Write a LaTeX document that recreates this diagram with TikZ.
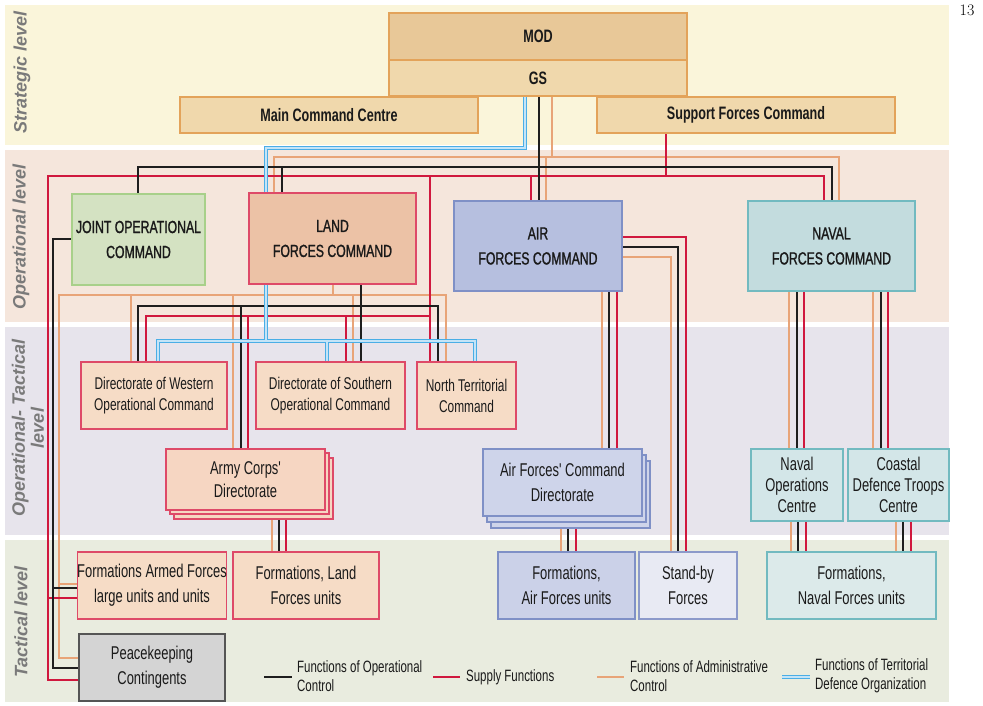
\documentclass[tikz,border=0pt]{standalone}
\usepackage{fontspec}
\newfontfamily\cond{Liberation Sans}[FakeStretch=0.7]
\newfontfamily\condmed{Liberation Sans}[FakeStretch=0.7,FakeBold=1.2]
\newfontfamily\lvlfont{Liberation Sans}
\usetikzlibrary{calc}
\pgfdeclarelayer{bands}
\pgfdeclarelayer{wires}
\pgfsetlayers{bands,wires,main}
\definecolor{bstrat}{HTML}{FAF5DA}
\definecolor{boper}{HTML}{F5E6DC}
\definecolor{boptac}{HTML}{E7E4EC}
\definecolor{btac}{HTML}{E9ECDF}
\definecolor{cmod}{HTML}{E8C898}
\definecolor{cgs}{HTML}{F0D8AC}
\definecolor{ctopb}{HTML}{E3A35A}
\definecolor{cjoc}{HTML}{D4E2C2}
\definecolor{cjocb}{HTML}{A8D08A}
\definecolor{clfc}{HTML}{ECC2A6}
\definecolor{credb}{HTML}{DE4A68}
\definecolor{cafc}{HTML}{B6BFDF}
\definecolor{cblueb}{HTML}{7F90C6}
\definecolor{cnfc}{HTML}{C3DCDE}
\definecolor{ctealb}{HTML}{72BAC0}
\definecolor{cdir}{HTML}{F6DCC6}
\definecolor{cacd}{HTML}{F6D6C2}
\definecolor{cafcd}{HTML}{CED4EA}
\definecolor{cnoc}{HTML}{D3E6E8}
\definecolor{cfair}{HTML}{CBD1E8}
\definecolor{csbf}{HTML}{E8EAF3}
\definecolor{csbfb}{HTML}{8C9ACA}
\definecolor{cfnfu}{HTML}{DCEAEA}
\definecolor{cpkc}{HTML}{D4D4D4}
\definecolor{cpkcb}{HTML}{555555}
\definecolor{ctext}{HTML}{1A1A1A}
\definecolor{clvl}{HTML}{7A7A7A}
\definecolor{lblk}{HTML}{1E1E1E}
\definecolor{lred}{HTML}{D0183E}
\definecolor{lorg}{HTML}{E8A478}
\definecolor{lblu}{HTML}{4AAEE6}
\definecolor{lbluin}{HTML}{C4E4F7}
\tikzset{
  box/.style={draw, line width=1.3pt, inner sep=0pt, align=center, text=ctext},
  boxsize/.style 2 args={minimum width=#1pt, minimum height=#2pt},
  fbold/.style={font=\cond\bfseries\fontsize{18}{22}\selectfont},
  fcmd/.style={font=\condmed\fontsize{17.5}{25}\selectfont},
  fdir/.style={font=\cond\fontsize{17}{21}\selectfont},
  fmid/.style={font=\cond\fontsize{18.5}{23}\selectfont},
  fnav/.style={font=\cond\fontsize{18.5}{21}\selectfont},
  ftac/.style={font=\cond\fontsize{18.5}{25}\selectfont},
  legtext/.style={inner sep=0pt, align=left, anchor=west, text=ctext, font=\cond\fontsize{16.4}{19}\selectfont},
  lvl/.style={rotate=90, inner sep=0pt, align=center, text=clvl, font=\lvlfont\bfseries\itshape\fontsize{18}{19}\selectfont},
  wblk/.style={draw=lblk, line width=1.8pt},
  wred/.style={draw=lred, line width=1.8pt},
  worg/.style={draw=lorg, line width=1.8pt},
  wtdo/.style={draw=lblu, line width=1.2pt, double=lbluin, double distance=1.6pt},
}
\begin{document}
\begin{tikzpicture}[x=1pt,y=-1pt]
\useasboundingbox (0,0) rectangle (983,705);
\begin{pgfonlayer}{bands}
\fill[white] (0,0) rectangle (983,705);
\fill[bstrat] (5,5) rectangle (949,145);
\fill[boper] (5,150) rectangle (949,322);
\fill[boptac] (5,327) rectangle (949,535);
\fill[btac] (5,540) rectangle (949,702);
\end{pgfonlayer}

% level labels
\node[lvl] (lstrat) at (22,72) {Strategic level};
\node[lvl] (loper) at (21,237) {Operational level};
\node[lvl] (loptac) at (28,428) {Operational- Tactical\\level};
\node[lvl] (ltac) at (21,622) {Tactical level};
\node[inner sep=0pt, font=\fontsize{16}{18}\selectfont] (pgno) at (967,10) {13};

% strategic
\node[box, fbold, draw=ctopb, fill=cmod, boxsize={298}{47}] (mod) at (538,36.5) {MOD};
\node[box, fbold, draw=ctopb, fill=cgs, boxsize={298}{36}] (gs) at (538,78) {GS};
\node[box, fbold, draw=ctopb, fill=cgs, boxsize={298}{36}] (mcc) at (329,115) {Main Command Centre};
\node[box, fbold, draw=ctopb, fill=cgs, boxsize={298}{36}] (sfc) at (746,115) {Support Forces Command};

% operational
\node[box, fcmd, draw=cjocb, fill=cjoc, boxsize={133}{91}] (joc) at (138.5,239.5) {JOINT OPERATIONAL\\COMMAND};
\node[box, fcmd, draw=credb, fill=clfc, boxsize={167}{91}] (lfc) at (332.5,238.5) {LAND\\FORCES COMMAND};
\node[box, fcmd, draw=cblueb, fill=cafc, boxsize={168}{90}] (afc) at (538,246) {AIR\\FORCES COMMAND};
\node[box, fcmd, draw=ctealb, fill=cnfc, boxsize={167}{90}] (nfc) at (831.5,246) {NAVAL\\FORCES COMMAND};

% operational-tactical
\node[box, fdir, draw=credb, fill=cdir, boxsize={146}{67}] (dwoc) at (154,395.5) {Directorate of Western\\Operational Command};
\node[box, fdir, draw=credb, fill=cdir, boxsize={149}{67}] (dsoc) at (330.5,395.5) {Directorate of Southern\\Operational Command};
\node[box, fdir, draw=credb, fill=cdir, boxsize={99}{67}] (ntc) at (466.5,395.5) {North Territorial\\Command};

\node[box, draw=credb, fill=cacd, boxsize={159}{61}] (acdc) at (253.5,488.5) {};
\node[box, draw=credb, fill=cacd, boxsize={159}{61}] (acdb) at (249.5,483.5) {};
\node[box, fmid, draw=credb, fill=cacd, boxsize={159}{61}] (acd) at (245.5,479.5) {Army Corps'\\Directorate};

\node[box, draw=cblueb, fill=cafcd, boxsize={159}{67}] (afcdc) at (570.5,494.5) {};
\node[box, draw=cblueb, fill=cafcd, boxsize={159}{67}] (afcdb) at (566.5,488.5) {};
\node[box, ftac, draw=cblueb, fill=cafcd, boxsize={159}{67}] (afcd) at (562.5,482.5) {Air Forces' Command\\Directorate};

\node[box, fnav, draw=ctealb, fill=cnoc, boxsize={92}{72}] (noc) at (797,485) {Naval\\Operations\\Centre};
\node[box, fnav, draw=ctealb, fill=cnoc, boxsize={101}{72}] (cdtc) at (898.5,485) {Coastal\\Defence Troops\\Centre};

% tactical
\node[box, ftac, draw=credb, fill=cdir, boxsize={146}{67}] (fafu) at (152,585.5) {Formations Armed Forces\\large units and units};
\node[box, ftac, draw=credb, fill=cdir, boxsize={146}{67}] (flfu) at (306,585.5) {Formations, Land\\Forces units};
\node[box, ftac, draw=cblueb, fill=cfair, boxsize={137}{67}] (fairu) at (566.5,585.5) {Formations,\\Air Forces units};
\node[box, ftac, draw=csbfb, fill=csbf, boxsize={98}{67}] (sbf) at (688,585.5) {Stand-by\\Forces};
\node[box, ftac, draw=ctealb, fill=cfnfu, boxsize={169}{67}] (fnfu) at (851.5,585.5) {Formations,\\Naval Forces units};
\node[box, ftac, draw=cpkcb, fill=cpkc, boxsize={146}{67}] (pkc) at (152,667.5) {Peacekeeping\\Contingents};

% legend
\node[legtext] (lg1) at (297,676) {Functions of Operational\\Control};
\node[legtext] (lg2) at (466,677) {Supply Functions};
\node[legtext] (lg3) at (630,676) {Functions of Administrative\\Control};
\node[legtext] (lg4) at (815,676) {Functions of Territorial\\Defence Organization};
\draw[wblk] ($(lg1.west)+(-33,1)$) -- ($(lg1.west)+(-5,1)$);
\draw[wred] ($(lg2.west)+(-33,0)$) -- ($(lg2.west)+(-6,0)$);
\draw[worg] ($(lg3.west)+(-33,1)$) -- ($(lg3.west)+(-6,1)$);
\draw[wtdo] ($(lg4.west)+(-33,1)$) -- ($(lg4.west)+(-5,1)$);

\begin{pgfonlayer}{wires}
% administrative control
\draw[worg] (552,0 |- gs.south) -- (552,157)
  (274,0 |- lfc.north) -- (274,157) -- (839,157) -- (839,0 |- nfc.north)
  (546,157) -- (546,0 |- afc.north)
  (333,0 |- lfc.south) -- (333,295)
  (pkc.west |- 0,658) -| (59,295) -- (446,295) -- (446,0 |- ntc.north)
  (59,584) -- (fafu.west |- 0,584)
  (131,295) -- (131,0 |- dwoc.north)
  (233,295) -- (233,0 |- acd.north)
  (353,295) -- (353,0 |- dsoc.north)
  (272,0 |- acd.south) -- (272,0 |- flfu.north)
  (afc.east |- 0,257) -| (671,0 |- sbf.north)
  (602,0 |- afc.south) -- (602,0 |- afcd.north)
  (561,0 |- afcd.south) -- (561,0 |- fairu.north)
  (789,0 |- nfc.south) -- (789,0 |- noc.north)
  (873,0 |- nfc.south) -- (873,0 |- cdtc.north)
  (791,0 |- noc.south) -- (791,0 |- fnfu.north)
  (896,0 |- cdtc.south) -- (896,0 |- fnfu.north);
% supply
\draw[wred] (666,0 |- sfc.south) -- (666,176)
  (pkc.west |- 0,680) -| (48,176) -- (824,176) -- (824,0 |- nfc.north)
  (48,598) -- (fafu.west |- 0,598)
  (531,176) -- (531,0 |- afc.north)
  (430,176) -- (430,0 |- ntc.north)
  (146,0 |- dwoc.north) -- (146,316) -- (430,316)
  (248,316) -- (248,0 |- acd.north)
  (346,316) -- (346,0 |- dsoc.north)
  (286,0 |- acd.south) -- (286,0 |- flfu.north)
  (afc.east |- 0,237) -| (686,0 |- sbf.north)
  (617,0 |- afc.south) -- (617,0 |- afcd.north)
  (576,0 |- afcd.south) -- (576,0 |- fairu.north)
  (804,0 |- nfc.south) -- (804,0 |- noc.north)
  (888,0 |- nfc.south) -- (888,0 |- cdtc.north)
  (806,0 |- noc.south) -- (806,0 |- fnfu.north)
  (911,0 |- cdtc.south) -- (911,0 |- fnfu.north);
% operational control
\draw[wblk] (539,0 |- gs.south) -- (539,0 |- afc.north)
  (138,0 |- joc.north) -- (138,167) -- (832,167) -- (832,0 |- nfc.north)
  (282,167) -- (282,0 |- lfc.north)
  (joc.west |- 0,239) -| (53,668) -- (pkc.west |- 0,668)
  (53,588) -- (fafu.west |- 0,588)
  (361,0 |- lfc.south) -- (361,0 |- dsoc.north)
  (138,0 |- dwoc.north) -- (138,306) -- (438,306) -- (438,0 |- ntc.north)
  (241,306) -- (241,0 |- acd.north)
  (279,0 |- acd.south) -- (279,0 |- flfu.north)
  (afc.east |- 0,247) -| (678,0 |- sbf.north)
  (609,0 |- afc.south) -- (609,0 |- afcd.north)
  (568,0 |- afcd.south) -- (568,0 |- fairu.north)
  (797,0 |- nfc.south) -- (797,0 |- noc.north)
  (881,0 |- nfc.south) -- (881,0 |- cdtc.north)
  (798,0 |- noc.south) -- (798,0 |- fnfu.north)
  (903,0 |- cdtc.south) -- (903,0 |- fnfu.north);
% territorial defence organization
\draw[wtdo] (525,0 |- gs.south) -- (525,148) -- (266,148) -- (266,0 |- lfc.north)
  (266,0 |- lfc.south) -- (266,341)
  (158,0 |- dwoc.north) -- (158,341) -- (475,341) -- (475,0 |- ntc.north)
  (327,341) -- (327,0 |- dsoc.north);
\end{pgfonlayer}
\end{tikzpicture}
\end{document}
